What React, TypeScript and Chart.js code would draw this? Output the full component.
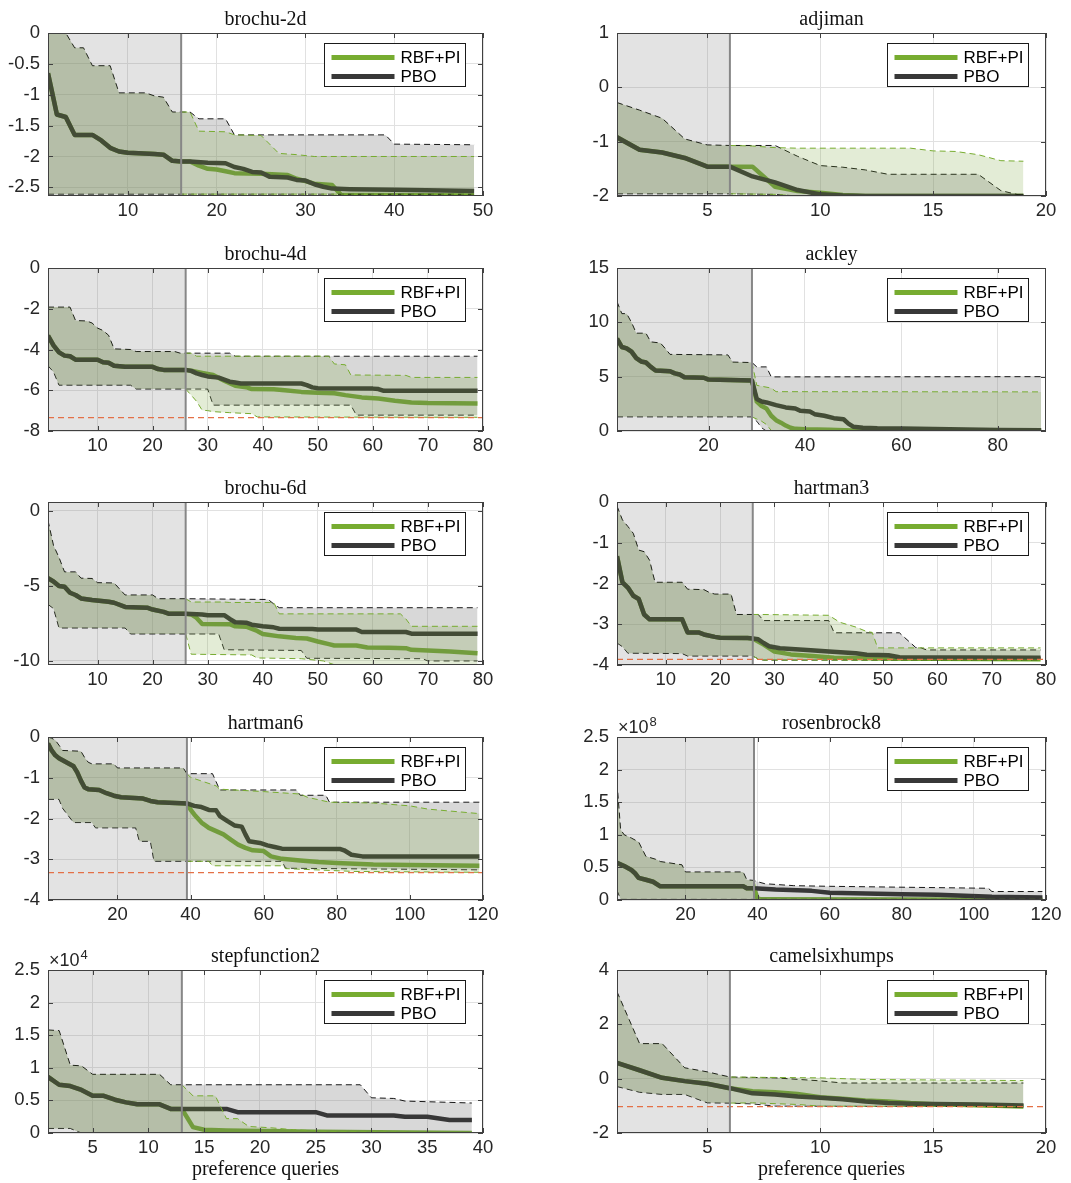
import React, { useEffect, useRef } from "react";
import { Chart, registerables } from "chart.js";

Chart.register(...registerables);

type Pt = [number, number];

// ---------------- brochu-2d ----------------
const brochu2dInitMean: Pt[] = [[1,-0.65],[2,-1.32],[3,-1.36],[4,-1.65],[6,-1.65],[7,-1.74],[8,-1.86],[9,-1.92],[10,-1.94],[13,-1.96],[14,-1.97],[15,-2.07],[16,-2.08]];
const brochu2dInitUpper: Pt[] = [[1,0],[3,0],[4,-0.24],[5,-0.24],[6,-0.53],[8,-0.53],[9,-0.97],[12,-0.97],[13,-1.02],[14,-1.04],[15,-1.28],[16,-1.28]];
const brochu2dInitLower: Pt[] = [[1,-2.61],[16,-2.61]];
const brochu2dPboMean: Pt[] = [[17,-2.08],[19,-2.1],[21,-2.11],[22,-2.17],[23,-2.2],[24,-2.25],[25,-2.26],[26,-2.33],[28,-2.34],[29,-2.38],[30,-2.39],[31,-2.45],[32,-2.49],[33,-2.52],[35,-2.53],[40,-2.54],[49,-2.56]];
const brochu2dPboUpper: Pt[] = [[17,-1.28],[18,-1.39],[21,-1.39],[22,-1.65],[39,-1.65],[40,-1.8],[49,-1.81]];
const brochu2dPboLower: Pt[] = [[49,-2.61]];
const brochu2dRbfMean: Pt[] = [[17,-2.08],[18,-2.15],[19,-2.2],[20,-2.21],[21,-2.24],[22,-2.27],[25,-2.28],[28,-2.3],[29,-2.36],[30,-2.4],[31,-2.44],[33,-2.46],[34,-2.62],[49,-2.63]];
const brochu2dRbfUpper: Pt[] = [[17,-1.28],[18,-1.59],[21,-1.6],[22,-1.65],[25,-1.66],[27,-1.95],[29,-1.97],[31,-2.0],[49,-2.0]];
const brochu2dRbfLower: Pt[] = [[49,-2.61]];

// ---------------- adjiman ----------------
const adjimanInitMean: Pt[] = [[1,-0.92],[2,-1.15],[3,-1.2],[4,-1.3],[5,-1.46],[6,-1.46]];
const adjimanInitUpper: Pt[] = [[1,-0.28],[2,-0.42],[3,-0.57],[4,-0.95],[5,-1.06],[6,-1.07]];
const adjimanInitLower: Pt[] = [[1,-1.96],[6,-1.96]];
const adjimanPboMean: Pt[] = [[7,-1.64],[8,-1.75],[9,-1.89],[10,-1.97],[11,-1.99],[12,-2.0],[19,-2.0]];
const adjimanPboUpper: Pt[] = [[8,-1.07],[9,-1.27],[10,-1.44],[11,-1.47],[12,-1.52],[13,-1.6],[17,-1.6],[18,-1.9],[19,-2.0]];
const adjimanPboLower: Pt[] = [[8,-1.97],[9,-2.0],[19,-2.0]];
const adjimanRbfMean: Pt[] = [[7,-1.46],[8,-1.83],[9,-1.91],[10,-1.94],[11,-1.98],[12,-2.0],[19,-2.0]];
const adjimanRbfUpper: Pt[] = [[7,-1.08],[8,-1.11],[9,-1.12],[14,-1.12],[15,-1.17],[16,-1.18],[17,-1.24],[18,-1.35],[19,-1.36]];
const adjimanRbfLower: Pt[] = [[8,-1.97],[9,-2.0],[19,-2.0]];

// ---------------- brochu-4d ----------------
const brochu4dInitMean: Pt[] = [[1,-3.32],[2,-3.8],[3,-4.14],[4,-4.3],[5,-4.33],[6,-4.5],[10,-4.5],[11,-4.63],[12,-4.65],[13,-4.8],[15,-4.85],[20,-4.85],[21,-4.96],[22,-5.0],[26,-5.0]];
const brochu4dInitUpper: Pt[] = [[1,-1.92],[5,-1.92],[6,-2.58],[8,-2.6],[9,-2.7],[10,-2.95],[11,-3.07],[12,-3.3],[13,-3.97],[16,-4.0],[17,-4.1],[24,-4.1],[25,-4.18],[26,-4.18]];
const brochu4dInitLower: Pt[] = [[1,-4.8],[2,-5.1],[3,-5.75],[16,-5.75],[17,-5.94],[26,-5.94]];
const brochu4dPboMean: Pt[] = [[27,-5.05],[28,-5.17],[29,-5.25],[30,-5.32],[32,-5.38],[33,-5.48],[34,-5.58],[35,-5.62],[36,-5.67],[47,-5.67],[48,-5.75],[49,-5.86],[50,-5.9],[60,-5.92],[61,-5.94],[62,-6.03],[79,-6.03]];
const brochu4dPboUpper: Pt[] = [[34,-4.18],[35,-4.33],[79,-4.33]];
const brochu4dPboLower: Pt[] = [[30,-5.94],[31,-6.73],[56,-6.73],[57,-7.22],[79,-7.22]];
const brochu4dRbfMean: Pt[] = [[27,-5.04],[29,-5.15],[31,-5.25],[33,-5.53],[35,-5.78],[37,-5.85],[38,-5.94],[42,-5.95],[44,-6.0],[47,-6.08],[50,-6.12],[53,-6.15],[55,-6.24],[58,-6.35],[61,-6.4],[64,-6.52],[67,-6.6],[70,-6.63],[79,-6.65]];
const brochu4dRbfUpper: Pt[] = [[27,-4.18],[28,-4.33],[52,-4.33],[53,-4.71],[55,-4.75],[56,-5.25],[66,-5.27],[67,-5.37],[79,-5.37]];
const brochu4dRbfLower: Pt[] = [[27,-6.24],[28,-6.55],[29,-6.98],[30,-7.0],[31,-7.05],[34,-7.1],[38,-7.15],[39,-7.31],[79,-7.33]];

// ---------------- ackley ----------------
const ackleyInitMean: Pt[] = [[1,8.5],[2,7.73],[3,7.6],[4,7.3],[5,6.7],[6,6.4],[7,6.3],[8,5.9],[9,5.57],[12,5.5],[13,5.3],[14,5.2],[15,4.95],[19,4.9],[20,4.73],[29,4.64]];
const ackleyInitUpper: Pt[] = [[1,11.9],[2,10.8],[3,10.8],[4,10.0],[5,9.0],[7,9.0],[8,8.2],[10,8.1],[11,7.6],[12,7.05],[24,7.0],[25,6.34],[29,6.3]];
const ackleyInitLower: Pt[] = [[1,1.3],[29,1.3]];
const ackleyPboMean: Pt[] = [[30,2.94],[31,2.72],[32,2.63],[34,2.38],[36,2.17],[38,2.07],[39,1.86],[41,1.8],[42,1.55],[44,1.4],[46,1.18],[48,1.08],[49,0.68],[50,0.4],[52,0.3],[55,0.25],[60,0.22],[70,0.15],[80,0.1],[89,0.08]];
const ackleyPboUpper: Pt[] = [[30,5.9],[32,5.9],[33,4.98],[89,5.0]];
const ackleyPboLower: Pt[] = [[30,0.9],[31,0.3],[32,0.0],[89,0.0]];
const ackleyRbfMean: Pt[] = [[30,2.7],[31,2.3],[32,2.07],[33,1.4],[34,1.0],[35,0.77],[36,0.5],[37,0.3],[38,0.2],[40,0.15],[45,0.12],[50,0.05],[60,0.02],[89,0.0]];
const ackleyRbfUpper: Pt[] = [[30,4.2],[33,3.95],[34,3.62],[89,3.6]];
const ackleyRbfLower: Pt[] = [[30,1.1],[31,0.9],[32,0.6],[33,0.05],[34,0.0],[89,0.0]];

// ---------------- brochu-6d ----------------
const brochu6dInitMean: Pt[] = [[1,-4.48],[2,-4.7],[3,-5.0],[4,-5.05],[5,-5.45],[6,-5.6],[7,-5.83],[9,-5.94],[12,-6.05],[13,-6.12],[15,-6.4],[19,-6.45],[20,-6.57],[22,-6.73],[23,-6.86],[26,-6.86]];
const brochu6dInitUpper: Pt[] = [[1,-0.63],[2,-2.3],[3,-3.1],[4,-4.06],[6,-4.06],[7,-4.48],[9,-4.5],[10,-4.78],[13,-4.8],[14,-5.2],[15,-5.6],[20,-5.6],[21,-5.85],[26,-5.85]];
const brochu6dInitLower: Pt[] = [[1,-6.23],[2,-6.5],[3,-7.8],[15,-7.8],[16,-8.2],[26,-8.2]];
const brochu6dPboMean: Pt[] = [[29,-6.9],[30,-6.95],[33,-6.95],[34,-7.2],[35,-7.42],[37,-7.45],[38,-7.58],[40,-7.69],[42,-7.76],[43,-7.85],[49,-7.87],[50,-7.91],[57,-7.91],[58,-8.07],[66,-8.07],[67,-8.18],[79,-8.18]];
const brochu6dPboUpper: Pt[] = [[41,-5.9],[42,-6.2],[43,-6.45],[79,-6.45]];
const brochu6dPboLower: Pt[] = [[32,-8.2],[33,-9.25],[47,-9.3],[48,-9.82],[69,-9.85],[70,-10.0],[79,-10.0]];
const brochu6dRbfMean: Pt[] = [[27,-6.9],[28,-7.13],[29,-7.53],[34,-7.55],[35,-7.69],[37,-7.72],[39,-8.0],[40,-8.2],[43,-8.36],[46,-8.47],[48,-8.5],[50,-8.7],[52,-8.88],[53,-8.97],[57,-8.97],[59,-9.1],[63,-9.12],[66,-9.15],[67,-9.26],[70,-9.3],[74,-9.37],[79,-9.48]];
const brochu6dRbfUpper: Pt[] = [[27,-6.07],[33,-6.07],[34,-6.1],[42,-6.1],[43,-6.86],[65,-6.86],[66,-7.2],[67,-7.69],[79,-7.69]];
const brochu6dRbfLower: Pt[] = [[27,-9.55],[38,-9.6],[39,-9.8],[47,-9.85],[51,-10.0],[53,-10.25],[79,-10.25]];

// ---------------- hartman3 ----------------
const hartman3InitMean: Pt[] = [[1,-1.33],[2,-1.97],[3,-2.1],[4,-2.3],[5,-2.38],[6,-2.76],[7,-2.88],[13,-2.88],[14,-3.2],[16,-3.2],[17,-3.25],[19,-3.31],[20,-3.33],[25,-3.34],[26,-3.35]];
const hartman3InitUpper: Pt[] = [[1,-0.1],[2,-0.44],[3,-0.6],[4,-0.77],[5,-1.18],[6,-1.22],[7,-1.43],[8,-1.97],[13,-1.97],[14,-2.14],[17,-2.15],[18,-2.22],[19,-2.26],[22,-2.26],[23,-2.76],[26,-2.76]];
const hartman3InitLower: Pt[] = [[1,-3.46],[2,-3.55],[3,-3.71],[13,-3.72],[14,-3.78],[26,-3.78]];
const hartman3PboMean: Pt[] = [[27,-3.37],[28,-3.46],[29,-3.54],[31,-3.59],[36,-3.63],[40,-3.67],[45,-3.71],[47,-3.75],[51,-3.76],[53,-3.81],[79,-3.82]];
const hartman3PboUpper: Pt[] = [[27,-2.76],[28,-2.91],[40,-2.91],[41,-3.21],[53,-3.21],[56,-3.57],[57,-3.58],[58,-3.63],[79,-3.63]];
const hartman3PboLower: Pt[] = [[27,-3.85],[28,-3.88],[79,-3.88]];
const hartman3RbfMean: Pt[] = [[28,-3.5],[30,-3.67],[33,-3.74],[37,-3.78],[41,-3.82],[50,-3.84],[79,-3.86]];
const hartman3RbfUpper: Pt[] = [[27,-2.76],[40,-2.78],[42,-2.95],[45,-3.07],[47,-3.18],[48,-3.2],[49,-3.58],[79,-3.58]];
const hartman3RbfLower: Pt[] = [[27,-3.85],[28,-3.88],[79,-3.88]];

// ---------------- hartman6 ----------------
const hartman6InitMean: Pt[] = [[1,-0.16],[2,-0.33],[3,-0.45],[4,-0.52],[6,-0.62],[8,-0.72],[9,-0.87],[10,-1.07],[11,-1.24],[12,-1.28],[15,-1.3],[17,-1.38],[19,-1.44],[21,-1.48],[27,-1.51],[29,-1.57],[31,-1.6],[39,-1.63]];
const hartman6InitUpper: Pt[] = [[1,0],[2,-0.03],[3,-0.08],[4,-0.2],[5,-0.33],[10,-0.35],[11,-0.5],[12,-0.62],[13,-0.66],[19,-0.66],[20,-0.76],[38,-0.76],[39,-0.9]];
const hartman6InitLower: Pt[] = [[1,-1.53],[4,-1.53],[5,-1.75],[8,-2.1],[13,-2.1],[14,-2.23],[25,-2.23],[26,-2.56],[29,-2.56],[30,-3.05],[39,-3.05]];
const hartman6PboMean: Pt[] = [[41,-1.69],[43,-1.72],[45,-1.79],[47,-1.8],[48,-1.94],[50,-2.06],[52,-2.17],[54,-2.2],[55,-2.39],[56,-2.56],[59,-2.6],[61,-2.66],[63,-2.7],[65,-2.74],[81,-2.75],[82,-2.78],[84,-2.89],[87,-2.93],[119,-2.93]];
const hartman6PboUpper: Pt[] = [[46,-0.9],[47,-1.1],[48,-1.3],[69,-1.3],[70,-1.43],[77,-1.43],[78,-1.6],[119,-1.6]];
const hartman6PboLower: Pt[] = [[65,-3.05],[66,-3.22],[119,-3.26]];
const hartman6RbfMean: Pt[] = [[40,-1.78],[41,-1.9],[43,-2.1],[45,-2.23],[47,-2.31],[49,-2.39],[51,-2.52],[53,-2.64],[55,-2.72],[57,-2.78],[60,-2.8],[62,-2.93],[65,-2.99],[70,-3.03],[75,-3.07],[80,-3.09],[90,-3.13],[100,-3.14],[119,-3.16]];
const hartman6RbfUpper: Pt[] = [[40,-0.99],[47,-1.2],[48,-1.28],[60,-1.34],[70,-1.4],[72,-1.48],[78,-1.6],[90,-1.62],[100,-1.69],[105,-1.77],[119,-1.88]];
const hartman6RbfLower: Pt[] = [[45,-3.05],[46,-3.16],[65,-3.16],[66,-3.23],[85,-3.3],[119,-3.32]];

// ---------------- rosenbrock8 (x 1e8) ----------------
const rosen8InitMean: Pt[] = [[1,0.57],[3,0.52],[5,0.46],[6,0.41],[7,0.34],[9,0.31],[11,0.28],[13,0.21],[36,0.21],[37,0.18],[39,0.18]];
const rosen8InitUpper: Pt[] = [[1,1.8],[2,1.08],[3,1.0],[5,0.95],[7,0.89],[8,0.78],[9,0.67],[12,0.62],[13,0.59],[19,0.54],[20,0.43],[36,0.43],[37,0.31],[39,0.3]];
const rosen8InitLower: Pt[] = [[1,0.15],[2,0.01],[39,0.01]];
const rosen8PboMean: Pt[] = [[45,0.16],[55,0.14],[60,0.11],[80,0.09],[90,0.08],[105,0.05],[119,0.04]];
const rosen8PboUpper: Pt[] = [[40,0.28],[42,0.25],[50,0.22],[60,0.21],[104,0.18],[105,0.13],[119,0.13]];
const rosen8PboLower: Pt[] = [[119,0.01]];
const rosen8RbfMean: Pt[] = [[40,0.025],[41,0.01],[119,0.005]];
const rosen8RbfUpper: Pt[] = [[40,0.03],[41,0.01],[119,0.01]];
const rosen8RbfLower: Pt[] = [[40,0.0],[119,0.0]];

// ---------------- stepfunction2 (x 1e4) ----------------
const step2InitMean: Pt[] = [[1,0.86],[2,0.74],[3,0.72],[4,0.66],[5,0.57],[6,0.57],[7,0.51],[8,0.47],[9,0.44],[11,0.44],[12,0.37],[13,0.37]];
const step2InitUpper: Pt[] = [[1,1.58],[2,1.57],[3,1.04],[4,1.03],[5,0.9],[11,0.9],[12,0.74],[13,0.74]];
const step2InitLower: Pt[] = [[1,0.07],[3,0.07],[4,0.0],[13,0.0]];
const step2PboMean: Pt[] = [[17,0.37],[18,0.32],[25,0.32],[26,0.27],[32,0.27],[33,0.25],[35,0.25],[37,0.2],[39,0.2]];
const step2PboUpper: Pt[] = [[29,0.74],[30,0.54],[32,0.53],[33,0.49],[39,0.46]];
const step2PboLower: Pt[] = [[39,0.0]];
const step2RbfMean: Pt[] = [[14,0.09],[15,0.05],[17,0.04],[20,0.03],[25,0.02],[39,0.0]];
const step2RbfUpper: Pt[] = [[14,0.57],[16,0.57],[17,0.22],[18,0.22],[19,0.1],[21,0.08],[23,0.05],[26,0.025],[39,0.01]];
const step2RbfLower: Pt[] = [[39,0.0]];

// ---------------- camelsixhumps ----------------
const camelInitMean: Pt[] = [[1,0.58],[2,0.31],[3,0.03],[4,-0.09],[5,-0.19],[6,-0.35]];
const camelInitUpper: Pt[] = [[1,3.2],[2,1.29],[3,1.29],[4,0.4],[5,0.25],[6,0.06]];
const camelInitLower: Pt[] = [[1,-0.29],[2,-0.5],[3,-0.58],[4,-0.58],[5,-0.89],[6,-0.9]];
const camelPboMean: Pt[] = [[7,-0.54],[8,-0.58],[9,-0.66],[10,-0.7],[11,-0.76],[12,-0.84],[13,-0.9],[14,-0.92],[15,-0.93],[17,-0.95],[19,-0.99]];
const camelPboUpper: Pt[] = [[8,0.03],[10,-0.08],[11,-0.16],[19,-0.16]];
const camelPboLower: Pt[] = [[7,-0.93],[8,-1.01],[19,-1.03]];
const camelRbfMean: Pt[] = [[7,-0.46],[8,-0.5],[9,-0.56],[10,-0.68],[11,-0.74],[12,-0.8],[13,-0.84],[14,-0.9],[15,-0.94],[17,-0.98],[19,-1.02]];
const camelRbfUpper: Pt[] = [[10,0.03],[12,-0.03],[19,-0.07]];
const camelRbfLower: Pt[] = [[7,-0.89],[8,-0.92],[9,-0.95],[10,-1.01],[19,-1.03]];

// ---------------- axes ----------------
const titles = ["brochu-2d","adjiman","brochu-4d","ackley","brochu-6d","hartman3","hartman6","rosenbrock8","stepfunction2","camelsixhumps"];
const xMaxes = [50, 20, 80, 90, 80, 80, 120, 120, 40, 20];
const xTickSets = [[10,20,30,40,50],[5,10,15,20],[10,20,30,40,50,60,70,80],[20,40,60,80],[10,20,30,40,50,60,70,80],[10,20,30,40,50,60,70,80],[20,40,60,80,100,120],[20,40,60,80,100,120],[5,10,15,20,25,30,35,40],[5,10,15,20]];
const yRanges: Pt[] = [[-2.64,0],[-2,1],[-8,0],[0,15],[-10.27,0.6],[-4,0],[-4,0],[0,2.5],[0,2.5],[-2,4]];
const yTickSets = [[-2.5,-2,-1.5,-1,-0.5,0],[-2,-1,0,1],[-8,-6,-4,-2,0],[0,5,10,15],[-10,-5,0],[-4,-3,-2,-1,0],[-4,-3,-2,-1,0],[0,0.5,1,1.5,2,2.5],[0,0.5,1,1.5,2,2.5],[-2,0,2,4]];
const yExponents = [0,0,0,0,0,0,0,8,4,0];
const initEnds = [16, 6, 26, 29, 26, 26, 39, 39, 13, 6];
const optima = [-2.635, -2.0, -7.34, 0, -10.25, -3.86, -3.33, 0, 0, -1.03];
const legendLabels = ["RBF+PI", "PBO"];
const xAxisLabel = "preference queries";

interface Panel {
  idx: number;
  init: [Pt[], Pt[], Pt[]];
  pbo: [Pt[], Pt[], Pt[]];
  rbf: [Pt[], Pt[], Pt[]];
}

const panelSeries: Panel[] = [
  { idx: 0, init: [brochu2dInitMean, brochu2dInitUpper, brochu2dInitLower], pbo: [brochu2dPboMean, brochu2dPboUpper, brochu2dPboLower], rbf: [brochu2dRbfMean, brochu2dRbfUpper, brochu2dRbfLower] },
  { idx: 1, init: [adjimanInitMean, adjimanInitUpper, adjimanInitLower], pbo: [adjimanPboMean, adjimanPboUpper, adjimanPboLower], rbf: [adjimanRbfMean, adjimanRbfUpper, adjimanRbfLower] },
  { idx: 2, init: [brochu4dInitMean, brochu4dInitUpper, brochu4dInitLower], pbo: [brochu4dPboMean, brochu4dPboUpper, brochu4dPboLower], rbf: [brochu4dRbfMean, brochu4dRbfUpper, brochu4dRbfLower] },
  { idx: 3, init: [ackleyInitMean, ackleyInitUpper, ackleyInitLower], pbo: [ackleyPboMean, ackleyPboUpper, ackleyPboLower], rbf: [ackleyRbfMean, ackleyRbfUpper, ackleyRbfLower] },
  { idx: 4, init: [brochu6dInitMean, brochu6dInitUpper, brochu6dInitLower], pbo: [brochu6dPboMean, brochu6dPboUpper, brochu6dPboLower], rbf: [brochu6dRbfMean, brochu6dRbfUpper, brochu6dRbfLower] },
  { idx: 5, init: [hartman3InitMean, hartman3InitUpper, hartman3InitLower], pbo: [hartman3PboMean, hartman3PboUpper, hartman3PboLower], rbf: [hartman3RbfMean, hartman3RbfUpper, hartman3RbfLower] },
  { idx: 6, init: [hartman6InitMean, hartman6InitUpper, hartman6InitLower], pbo: [hartman6PboMean, hartman6PboUpper, hartman6PboLower], rbf: [hartman6RbfMean, hartman6RbfUpper, hartman6RbfLower] },
  { idx: 7, init: [rosen8InitMean, rosen8InitUpper, rosen8InitLower], pbo: [rosen8PboMean, rosen8PboUpper, rosen8PboLower], rbf: [rosen8RbfMean, rosen8RbfUpper, rosen8RbfLower] },
  { idx: 8, init: [step2InitMean, step2InitUpper, step2InitLower], pbo: [step2PboMean, step2PboUpper, step2PboLower], rbf: [step2RbfMean, step2RbfUpper, step2RbfLower] },
  { idx: 9, init: [camelInitMean, camelInitUpper, camelInitLower], pbo: [camelPboMean, camelPboUpper, camelPboLower], rbf: [camelRbfMean, camelRbfUpper, camelRbfLower] },
];

// ---------------- layout & style ----------------
const COL_LEFT = [48, 617];
const COL_W = [435, 429];
const ROW_TOP = [33, 268, 502, 737, 970];
const PLOT_H = 163;
const PAD_L = [48, 60];
const PAD_T = 33;
const PAD_R = 24;
const PAD_B = 52;

const SANS = "'Liberation Sans', Arial, Helvetica, sans-serif";
const SERIF = "'Liberation Serif', 'Times New Roman', serif";
const TXT = "#262626";
const GRID = "#e1e1e1";
const BOX = "#404040";
const PBO_LINE = "rgb(22,22,22)";
const RBF_LINE = "rgb(108,168,36)";
const PBO_FILL = "rgba(128,128,128,0.31)";
const RBF_FILL = "rgba(115,160,50,0.2)";
const PBO_EDGE = "rgba(0,0,0,0.9)";
const RBF_EDGE = "rgb(119,172,48)";
const HIDDEN = "rgba(0,0,0,0)";
const INIT_FILL = "rgba(128,128,128,0.22)";
const INIT_LINE = "rgb(135,135,135)";
const OPT_LINE = "rgb(228,112,70)";
const LEG_GREEN = "rgb(119,172,48)";
const LEG_DARK = "rgb(56,56,56)";
const TICK_SIZE = 18.5;

const fmt = (v: number | string) => {
  const n = Math.round(Number(v) * 1000) / 1000;
  return n === 0 ? "0" : String(n);
};
const toXY = (pts: Pt[]) => pts.map(([x, y]) => ({ x, y }));

function PanelChart({ p }: { p: Panel }) {
  const ref = useRef<HTMLCanvasElement | null>(null);
  const i = p.idx;
  const col = i % 2;
  const row = Math.floor(i / 2);
  const padL = PAD_L[col];
  const W = COL_W[col];
  const cw = padL + W + PAD_R;
  const ch = PAD_T + PLOT_H + PAD_B;
  const left = COL_LEFT[col] - padL;
  const top = ROW_TOP[row] - PAD_T;

  useEffect(() => {
    if (!ref.current) return;
    const xMin = 1;
    const xMax = xMaxes[i];
    const [yMin, yMax] = yRanges[i];
    const xTicks = xTickSets[i];
    const yTicks = yTickSets[i];
    const initEnd = initEnds[i];
    const opt = optima[i];
    const exp = yExponents[i];
    const isBottom = row === 4;

    const pboMean = [...p.init[0], ...p.pbo[0]];
    const pboUpper = [...p.init[1], ...p.pbo[1]];
    const pboLower = [...p.init[2], ...p.pbo[2]];
    const rbfMean = [...p.init[0], ...p.rbf[0]];
    const rbfUpper = [...p.init[1], ...p.rbf[1]];
    const rbfLower = [...p.init[2], ...p.rbf[2]];
    const optLine: Pt[] = [[xMin, opt], [xMax, opt]];

    const decor = {
      id: "panelDecor" + i,
      beforeDatasetsDraw(chart: any) {
        const { ctx, chartArea: a, scales } = chart;
        const xe = scales.x.getPixelForValue(initEnd);
        ctx.save();
        ctx.fillStyle = INIT_FILL;
        ctx.fillRect(a.left, a.top, xe - a.left, a.bottom - a.top);
        ctx.restore();
      },
      afterDatasetsDraw(chart: any) {
        const { ctx, chartArea: a, scales } = chart;
        const sx = scales.x;
        const sy = scales.y;
        ctx.save();
        const xe = sx.getPixelForValue(initEnd);
        ctx.strokeStyle = INIT_LINE;
        ctx.lineWidth = 2;
        ctx.beginPath();
        ctx.moveTo(xe, a.top);
        ctx.lineTo(xe, a.bottom);
        ctx.stroke();
        ctx.strokeStyle = BOX;
        ctx.lineWidth = 1;
        ctx.strokeRect(a.left + 0.5, a.top + 0.5, a.right - a.left - 1, a.bottom - a.top - 1);
        const tl = 5;
        ctx.beginPath();
        xTicks.forEach((v) => {
          const px = Math.round(sx.getPixelForValue(v)) + 0.5;
          ctx.moveTo(px, a.bottom);
          ctx.lineTo(px, a.bottom - tl);
          ctx.moveTo(px, a.top);
          ctx.lineTo(px, a.top + tl);
        });
        yTicks.forEach((v) => {
          const py = Math.round(sy.getPixelForValue(v)) + 0.5;
          ctx.moveTo(a.left, py);
          ctx.lineTo(a.left + tl, py);
          ctx.moveTo(a.right, py);
          ctx.lineTo(a.right - tl, py);
        });
        ctx.stroke();
        // legend box
        const lw = 141;
        const lh = 43;
        const lx = Math.round(a.right - 18 - lw) + 0.5;
        const ly = Math.round(a.top + 10) + 0.5;
        ctx.fillStyle = "#ffffff";
        ctx.fillRect(lx, ly, lw, lh);
        ctx.strokeStyle = "#1a1a1a";
        ctx.lineWidth = 1;
        ctx.strokeRect(lx, ly, lw, lh);
        const legColors = [LEG_GREEN, LEG_DARK];
        legendLabels.forEach((lab, k) => {
          const yy = ly + 14 + k * 19;
          ctx.strokeStyle = legColors[k];
          ctx.lineWidth = 5;
          ctx.lineCap = "butt";
          ctx.beginPath();
          ctx.moveTo(lx + 7, yy);
          ctx.lineTo(lx + 70, yy);
          ctx.stroke();
          ctx.fillStyle = "#000";
          ctx.font = "17px " + SANS;
          ctx.textAlign = "left";
          ctx.textBaseline = "middle";
          ctx.fillText(lab, lx + 76, yy + 1);
        });
        ctx.restore();
      },
      afterDraw(chart: any) {
        const { ctx, chartArea: a } = chart;
        ctx.save();
        ctx.fillStyle = "#111";
        ctx.font = "20px " + SERIF;
        ctx.textAlign = "center";
        ctx.textBaseline = "alphabetic";
        ctx.fillText(titles[i], (a.left + a.right) / 2, a.top - 8);
        if (exp) {
          ctx.fillStyle = TXT;
          ctx.textAlign = "left";
          ctx.font = "18px " + SANS;
          const base = "\u00d710";
          ctx.fillText(base, a.left + 1, a.top - 4);
          const w = ctx.measureText(base).width;
          ctx.font = "13px " + SANS;
          ctx.fillText(String(exp), a.left + 2 + w, a.top - 11);
        }
        ctx.restore();
      },
    };

    const band = (data: Pt[], fill: any, bg: string, edge: string, order: number, hideInit: boolean) => ({
      data: toXY(data),
      fill,
      backgroundColor: bg,
      borderColor: edge,
      borderWidth: 1,
      borderDash: [6, 4],
      pointRadius: 0,
      order,
      segment: hideInit
        ? { borderColor: (c: any) => (c.p1.parsed.x <= initEnd ? HIDDEN : edge) }
        : undefined,
    });

    const chart = new Chart(ref.current, {
      type: "line",
      data: {
        datasets: [
          band(pboUpper, "+1", PBO_FILL, PBO_EDGE, 4, false),
          band(pboLower, false, PBO_FILL, PBO_EDGE, 4, false),
          band(rbfUpper, "+1", RBF_FILL, RBF_EDGE, 3, true),
          band(rbfLower, false, RBF_FILL, RBF_EDGE, 3, true),
          { label: legendLabels[1], data: toXY(pboMean), borderColor: PBO_LINE, borderWidth: 4.5, pointRadius: 0, fill: false, order: 5, borderJoinStyle: "round" },
          { label: legendLabels[0], data: toXY(rbfMean), borderColor: RBF_LINE, borderWidth: 4.5, pointRadius: 0, fill: false, order: 6, borderJoinStyle: "round" },
          { data: toXY(optLine), borderColor: OPT_LINE, borderWidth: 1.3, borderDash: [6, 4], pointRadius: 0, fill: false, order: 1 },
        ] as any,
      },
      options: {
        responsive: false,
        animation: false,
        events: [],
        layout: { padding: { left: 0, top: PAD_T, right: PAD_R, bottom: 0 } },
        plugins: {
          legend: { display: false },
          tooltip: { enabled: false },
          title: { display: false },
        },
        elements: { line: { tension: 0 }, point: { radius: 0 } },
        scales: {
          x: {
            type: "linear",
            min: xMin,
            max: xMax,
            afterBuildTicks: (s: any) => {
              s.ticks = xTicks.map((v) => ({ value: v }));
            },
            afterFit: (s: any) => {
              s.height = PAD_B;
            },
            grid: { color: GRID, lineWidth: 1, drawTicks: false },
            border: { display: false },
            ticks: {
              padding: 4,
              color: TXT,
              font: { family: SANS, size: TICK_SIZE },
              maxRotation: 0,
              autoSkip: false,
              callback: (v: any) => fmt(v),
            },
            title: {
              display: isBottom,
              text: xAxisLabel,
              color: "#111",
              font: { family: SERIF, size: 20 },
              padding: { top: 0, bottom: 3 },
            },
          },
          y: {
            type: "linear",
            min: yMin,
            max: yMax,
            afterBuildTicks: (s: any) => {
              s.ticks = yTicks.map((v) => ({ value: v }));
            },
            afterFit: (s: any) => {
              s.width = padL;
            },
            grid: { color: GRID, lineWidth: 1, drawTicks: false },
            border: { display: false },
            ticks: {
              padding: 8,
              color: TXT,
              font: { family: SANS, size: TICK_SIZE },
              autoSkip: false,
              callback: (v: any) => fmt(v),
            },
          },
        },
      } as any,
      plugins: [decor],
    });
    return () => chart.destroy();
  }, [p]);

  return (
    <canvas
      ref={ref}
      width={cw}
      height={ch}
      style={{ position: "absolute", left, top, width: cw, height: ch, display: "block" }}
    />
  );
}

export default function App() {
  return (
    <div
      style={{
        position: "absolute",
        left: 0,
        top: 0,
        width: 1071,
        height: 1183,
        overflow: "hidden",
        background: "#ffffff",
      }}
    >
      {panelSeries.map((p) => (
        <PanelChart key={p.idx} p={p} />
      ))}
    </div>
  );
}
